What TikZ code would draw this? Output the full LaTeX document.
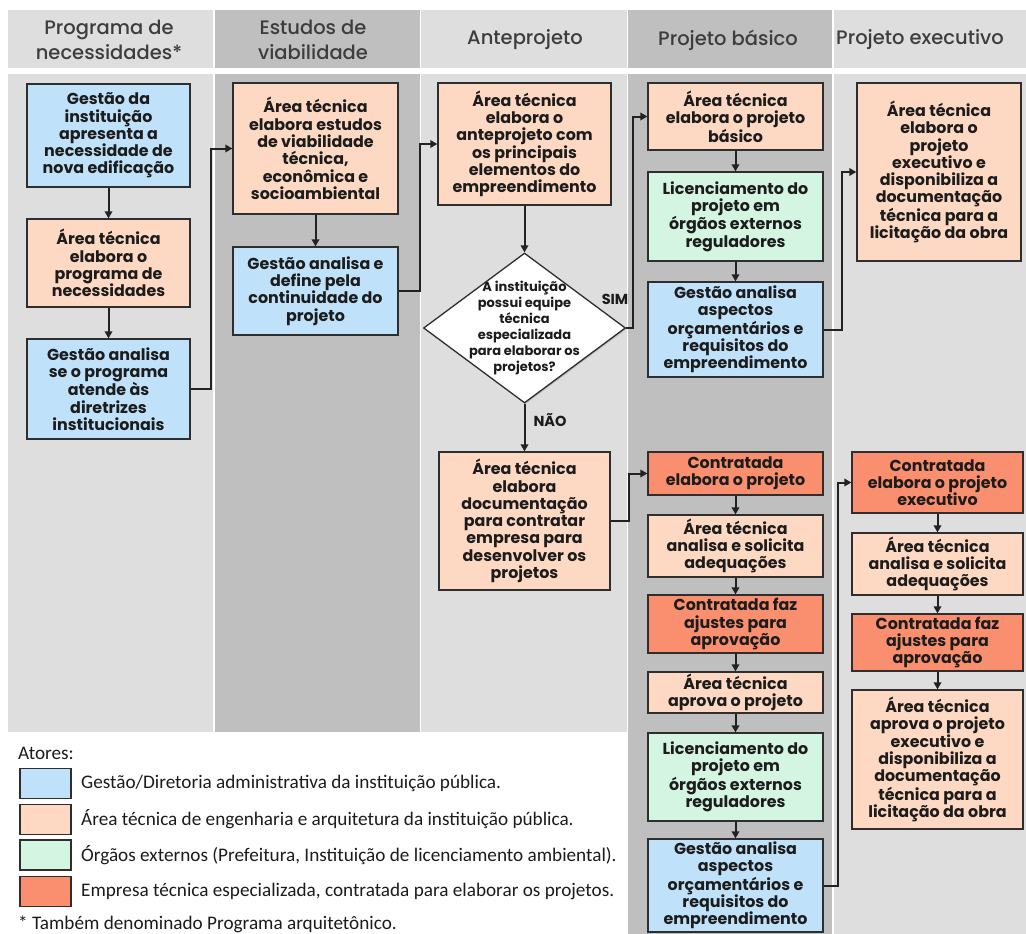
\documentclass[tikz,border=0pt]{standalone}
\usepackage{fontspec}
\setmainfont{Poppins}
\newfontfamily\hdfont{Poppins Medium}
\newfontfamily\legfont{Carlito}
\usetikzlibrary{arrows.meta,shapes.geometric,shadows}
\definecolor{cblue}{HTML}{BFE2FA}
\definecolor{cpeach}{HTML}{FDD8C3}
\definecolor{cgreen}{HTML}{D4F5E2}
\definecolor{corange}{HTML}{F98F6F}
\definecolor{glight}{HTML}{DEDEDE}
\definecolor{gdark}{HTML}{BFBFBF}
\definecolor{hdtext}{HTML}{3D3D3D}
\definecolor{bord}{HTML}{2E2E2E}
\definecolor{txt}{HTML}{1C1C1C}
\definecolor{arrc}{HTML}{222222}
\begin{document}
\begin{tikzpicture}[x=1pt,y=-1pt,
  bx/.style={draw=bord, line width=1.3pt, align=center, inner sep=1pt,
    font=\bfseries\fontsize{15.9}{17.3}\selectfont, text=txt,
    drop shadow={shadow xshift=1.2pt,shadow yshift=-1.2pt,opacity=0.35}},
  gbox/.style={bx, fill=cblue},
  pbox/.style={bx, fill=cpeach},
  vbox/.style={bx, fill=cgreen},
  obox/.style={bx, fill=corange},
  arr/.style={draw=arrc, line width=2pt, -{Triangle[length=7pt,width=7.5pt]}},
  hd/.style={font=\hdfont\fontsize{19.5}{25}\selectfont, text=hdtext, align=center},
  lab/.style={font=\bfseries\fontsize{14.5}{16}\selectfont, text=txt},
  lgbox/.style={draw=bord, line width=1.1pt, minimum width=51pt, minimum height=30pt, inner sep=0pt},
  lgtext/.style={anchor=west, font=\legfont\fontsize{19.2}{22}\selectfont, text=txt, inner sep=0pt}
]
\useasboundingbox (0,0) rectangle (1026,934);
\fill[white] (0,0) rectangle (1026,934);
% column headers
\fill[glight] (8,10) rectangle (213,68);
\fill[gdark] (215,10) rectangle (420,68);
\fill[glight] (421,10) rectangle (627,68);
\fill[gdark] (628,10) rectangle (832,68);
\fill[glight] (834,10) rectangle (1026,68);
% column bodies
\fill[glight] (8,74) rectangle (213,732);
\fill[gdark] (215,74) rectangle (420,732);
\fill[glight] (421,74) rectangle (627,732);
\fill[gdark] (628,74) rectangle (832,934);
\fill[glight] (834,74) rectangle (1026,934);
% headers text
\node[hd] (h1) at (109,40) {Programa de\\necessidades*};
\node[hd] (h2) at (313,40) {Estudos de\\viabilidade};
\node[hd] (h3) at (525,40) {Anteprojeto};
\node[hd] (h4) at (728,40) {Projeto básico};
\node[hd, anchor=west, inner sep=0pt] (h5) at (836,40) {Projeto executivo};
% column 1
\node[gbox, minimum width=163pt, minimum height=103pt] (A1) at (108.5,135.5) {Gestão da\\instituição\\apresenta a\\necessidade de\\nova edificação};
\node[pbox, minimum width=163pt, minimum height=88pt] (A2) at (108.5,263) {Área técnica\\elabora o\\programa de\\necessidades};
\node[gbox, minimum width=163pt, minimum height=100pt] (A3) at (108.5,389) {Gestão analisa\\se o programa\\atende às\\diretrizes\\institucionais};
% column 2
\node[pbox, minimum width=165pt, minimum height=131pt] (B1) at (315.5,148.5) {Área técnica\\elabora estudos\\de viabilidade\\técnica,\\econômica e\\socioambiental};
\node[gbox, minimum width=165pt, minimum height=88pt] (B2) at (315.5,291) {Gestão analisa e\\define pela\\continuidade do\\projeto};
% column 3
\node[pbox, minimum width=173pt, minimum height=122pt] (C1) at (524.5,144) {Área técnica\\elabora o\\anteprojeto com\\os principais\\elementos do\\empreendimento};
\node[diamond, draw=bord, line width=1.3pt, fill=white, minimum width=202pt, minimum height=150pt, inner sep=0pt,
  drop shadow={shadow xshift=1.2pt,shadow yshift=-1.2pt,opacity=0.35}] (dia) at (524.5,328) {};
\node[align=center, font=\bfseries\fontsize{13}{16}\selectfont, text=txt] (diat) at (dia.center) {A instituição\\possui equipe\\técnica\\especializada\\para elaborar os\\projetos?};
\node[pbox, minimum width=171pt, minimum height=138pt] (C2) at (524.5,521) {Área técnica\\elabora\\documentação\\para contratar\\empresa para\\desenvolver os\\projetos};
% column 4 upper
\node[pbox, minimum width=175pt, minimum height=67pt] (D1) at (735.5,116.5) {Área técnica\\elabora o projeto\\básico};
\node[vbox, minimum width=175pt, minimum height=89pt] (D2) at (735.5,216.5) {Licenciamento do\\projeto em\\órgãos externos\\reguladores};
\node[gbox, minimum width=175pt, minimum height=95pt] (D3) at (735.5,329.5) {Gestão analisa\\aspectos\\orçamentários e\\requisitos do\\empreendimento};
% column 5 upper
\node[pbox, minimum width=164pt, minimum height=178pt] (E1) at (939,172) {Área técnica\\elabora o\\projeto\\executivo e\\disponibiliza a\\documentação\\técnica para a\\licitação da obra};
% column 4 lower
\node[obox, minimum width=175pt, minimum height=43pt] (F1) at (735.5,473.5) {Contratada\\elabora o projeto};
\node[pbox, minimum width=175pt, minimum height=62pt] (F2) at (735.5,546) {Área técnica\\analisa e solicita\\adequações};
\node[obox, minimum width=175pt, minimum height=58pt] (F3) at (735.5,624) {Contratada faz\\ajustes para\\aprovação};
\node[pbox, minimum width=175pt, minimum height=41pt] (F4) at (735.5,692.5) {Área técnica\\aprova o projeto};
\node[vbox, minimum width=175pt, minimum height=88pt] (F5) at (735.5,777) {Licenciamento do\\projeto em\\órgãos externos\\reguladores};
\node[gbox, minimum width=175pt, minimum height=93pt] (F6) at (735.5,885.5) {Gestão analisa\\aspectos\\orçamentários e\\requisitos do\\empreendimento};
% column 5 lower
\node[obox, minimum width=171pt, minimum height=61pt] (G1) at (937.5,482.5) {Contratada\\elabora o projeto\\executivo};
\node[pbox, minimum width=171pt, minimum height=62pt] (G2) at (937.5,564) {Área técnica\\analisa e solicita\\adequações};
\node[obox, minimum width=171pt, minimum height=57pt] (G3) at (937.5,642.5) {Contratada faz\\ajustes para\\aprovação};
\node[pbox, minimum width=171pt, minimum height=139pt] (G4) at (937.5,759.5) {Área técnica\\aprova o projeto\\executivo e\\disponibiliza a\\documentação\\técnica para a\\licitação da obra};
% connectors
\draw[arr] (A1) -- (A2);
\draw[arr] (A2) -- (A3);
\draw[arr] (A3.east) -- ++(20,0) |- (B1.west);
\draw[arr] (B1) -- (B2);
\draw[arr] (B2.east) -- ++(21,0) |- (C1.west);
\draw[arr] (C1) -- (dia);
\draw[arr] (dia.east) -- ++(7,0) |- (D1.west);
\draw[arr] (dia) -- (C2);
\draw[arr] (D1) -- (D2);
\draw[arr] (D2) -- (D3);
\draw[arr] (D3.east) -- ++(18,0) |- (E1.west);
\draw[arr] (C2.east) -- ++(18,0) |- (F1.west);
\draw[arr] (F1) -- (F2);
\draw[arr] (F2) -- (F3);
\draw[arr] (F3) -- (F4);
\draw[arr] (F4) -- (F5);
\draw[arr] (F5) -- (F6);
\draw[arr] (F6.east) -- ++(14,0) |- (G1.west);
\draw[arr] (G1) -- (G2);
\draw[arr] (G2) -- (G3);
\draw[arr] (G3) -- (G4);
% labels
\node[lab] (sim) at (615,299) {SIM};
\node[lab] (nao) at (550,420) {NÃO};
% legend
\node[lgtext] (atores) at (18,753) {Atores:};
\node[lgbox, fill=cblue] (lg1) at (45.5,783.5) {};
\node[lgbox, fill=cpeach] (lg2) at (45.5,819.5) {};
\node[lgbox, fill=cgreen] (lg3) at (45.5,855) {};
\node[lgbox, fill=corange] (lg4) at (45.5,891.5) {};
\node[lgtext] (lt1) at (81,783.5) {Gestão/Diretoria administrativa da instituição pública.};
\node[lgtext] (lt2) at (81,819.5) {Área técnica de engenharia e arquitetura da instituição pública.};
\node[lgtext] (lt3) at (81,855) {Órgãos externos (Prefeitura, Instituição de licenciamento ambiental).};
\node[lgtext] (lt4) at (81,891.5) {Empresa técnica especializada, contratada para elaborar os projetos.};
\node[lgtext] (foot) at (18,924) {* Também denominado Programa arquitetônico.};
\end{tikzpicture}
\end{document}
